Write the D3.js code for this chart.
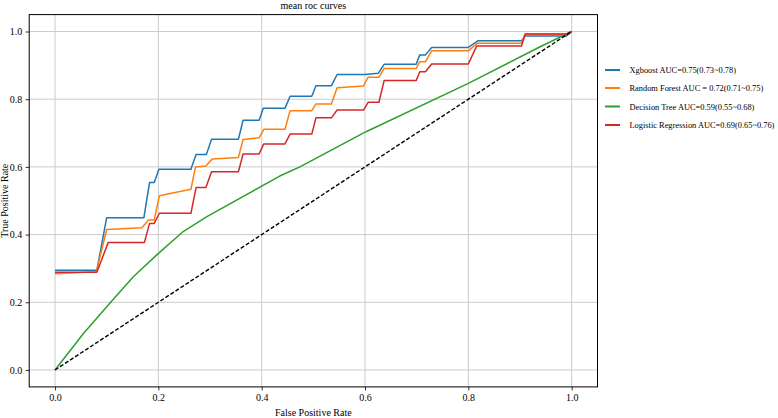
<!DOCTYPE html>
<html><head><meta charset="utf-8">
<script src="https://cdn.jsdelivr.net/npm/d3@7"></script>
<style>body{margin:0;background:#fff}svg{display:block}text{font-family:"Liberation Serif","Times New Roman",serif;fill:#000}</style>
</head><body>
<svg id="c" width="778" height="418"></svg>
<script>
const xgbX = [0,0.081,0.100,0.172,0.183,0.192,0.201,0.263,0.273,0.293,0.303,0.355,0.364,0.395,0.403,0.445,0.455,0.497,0.505,0.535,0.546,0.600,0.626,0.637,0.699,0.706,0.717,0.729,0.800,0.819,0.903,0.910,0.990,1.0];
const xgbY = [0.295,0.295,0.450,0.450,0.554,0.554,0.593,0.593,0.637,0.637,0.682,0.682,0.738,0.738,0.773,0.773,0.809,0.809,0.840,0.840,0.873,0.873,0.877,0.903,0.903,0.931,0.931,0.953,0.953,0.973,0.973,0.987,0.987,1.0];
const rfX = [0,0.080,0.100,0.168,0.181,0.192,0.202,0.263,0.272,0.292,0.304,0.355,0.364,0.395,0.404,0.445,0.455,0.497,0.505,0.535,0.546,0.597,0.606,0.627,0.637,0.699,0.706,0.717,0.729,0.800,0.817,0.903,0.910,0.990,1.0];
const rfY = [0.284,0.290,0.415,0.420,0.443,0.443,0.515,0.534,0.600,0.603,0.623,0.628,0.681,0.686,0.711,0.711,0.766,0.766,0.786,0.786,0.834,0.839,0.865,0.865,0.891,0.891,0.911,0.911,0.943,0.943,0.965,0.965,0.993,0.993,1.0];
const dtX = [0,0.055,0.106,0.152,0.197,0.248,0.294,0.435,0.474,0.602,0.800,0.939,1.0];
const dtY = [0,0.108,0.197,0.276,0.340,0.409,0.453,0.573,0.600,0.704,0.847,0.955,1.0];
const lrX = [0,0.081,0.103,0.173,0.183,0.192,0.202,0.263,0.273,0.292,0.303,0.355,0.364,0.395,0.404,0.445,0.455,0.497,0.505,0.535,0.546,0.597,0.606,0.627,0.637,0.699,0.706,0.717,0.729,0.800,0.816,0.903,0.910,0.990,1.0];
const lrY = [0.289,0.289,0.377,0.377,0.433,0.433,0.463,0.463,0.539,0.539,0.586,0.586,0.638,0.638,0.668,0.668,0.697,0.697,0.745,0.745,0.768,0.768,0.791,0.791,0.855,0.855,0.881,0.881,0.904,0.904,0.957,0.957,0.993,0.993,1.0];
const diagX = [0,1];
const diagY = [0,1];
const seriesNames = ["Xgboost AUC=0.75(0.73~0.78)","Random Forest AUC = 0.72(0.71~0.75)","Decision Tree AUC=0.59(0.55~0.68)","Logistic Regression AUC=0.69(0.65~0.76)"];
const seriesColors = ["#1f77b4","#ff7f0e","#2ca02c","#d62728"];
const tickVals = [0,0.2,0.4,0.6,0.8,1.0];
const tickLabels = ["0.0","0.2","0.4","0.6","0.8","1.0"];

const svg = d3.select("#c");
const L = 29.2, R = 597.5, T = 14.6, B = 386.9;
const x = d3.scaleLinear().domain([-0.05,1.05]).range([L,R]);
const y = d3.scaleLinear().domain([-0.05,1.05]).range([B,T]);

// grid
const g = svg.append("g");
tickVals.forEach(v=>{
  g.append("line").attr("x1",x(v)).attr("x2",x(v)).attr("y1",T).attr("y2",B).attr("stroke","#cbcbcb").attr("stroke-width",1);
  g.append("line").attr("y1",y(v)).attr("y2",y(v)).attr("x1",L).attr("x2",R).attr("stroke","#cbcbcb").attr("stroke-width",1);
});

const series = [[xgbX,xgbY],[rfX,rfY],[dtX,dtY],[lrX,lrY]];
const line = d3.line().x(d=>x(d[0])).y(d=>y(d[1]));
series.forEach((s,i)=>{
  const pts = s[0].map((v,j)=>[v,s[1][j]]);
  svg.append("path").attr("d",line(pts)).attr("fill","none").attr("stroke",seriesColors[i]).attr("stroke-width",1.5).attr("stroke-linejoin","round");
});
svg.append("path").attr("d",line(diagX.map((v,j)=>[v,diagY[j]]))).attr("fill","none").attr("stroke","#000").attr("stroke-width",1.4).attr("stroke-dasharray","4,2");

// axes
const xa = d3.axisBottom(x).tickValues(tickVals).tickFormat((d,i)=>tickLabels[i]).tickSize(3.5).tickPadding(3.5);
const ya = d3.axisLeft(y).tickValues(tickVals).tickFormat((d,i)=>tickLabels[i]).tickSize(3.5).tickPadding(3.5);
const gx = svg.append("g").attr("transform",`translate(0,${B})`).call(xa);
const gy = svg.append("g").attr("transform",`translate(${L},0)`).call(ya);
[gx,gy].forEach(a=>{a.select(".domain").remove();a.selectAll("text").style("font-size","10px").style("font-family","Liberation Serif");a.selectAll("line").attr("stroke","#000").attr("stroke-width",0.8);});
svg.append("rect").attr("x",L).attr("y",T).attr("width",R-L).attr("height",B-T).attr("fill","none").attr("stroke","#000").attr("stroke-width",1);

svg.append("text").attr("x",(L+R)/2).attr("y",8.5).attr("text-anchor","middle").style("font-size","10px").text("mean roc curves");
svg.append("text").attr("x",(L+R)/2).attr("y",415.5).attr("text-anchor","middle").style("font-size","10px").text("False Positive Rate");
svg.append("text").attr("transform",`translate(8,${(T+B)/2}) rotate(-90)`).attr("text-anchor","middle").style("font-size","10px").text("True Positive Rate");

// legend
const ly = [70,88,106.5,125];
seriesNames.forEach((n,i)=>{
  svg.append("line").attr("x1",605).attr("x2",620).attr("y1",ly[i]).attr("y2",ly[i]).attr("stroke",seriesColors[i]).attr("stroke-width",2);
  svg.append("text").attr("x",629.5).attr("y",ly[i]+3).style("font-size","8.4px").text(n);
});
</script>
</body></html>
